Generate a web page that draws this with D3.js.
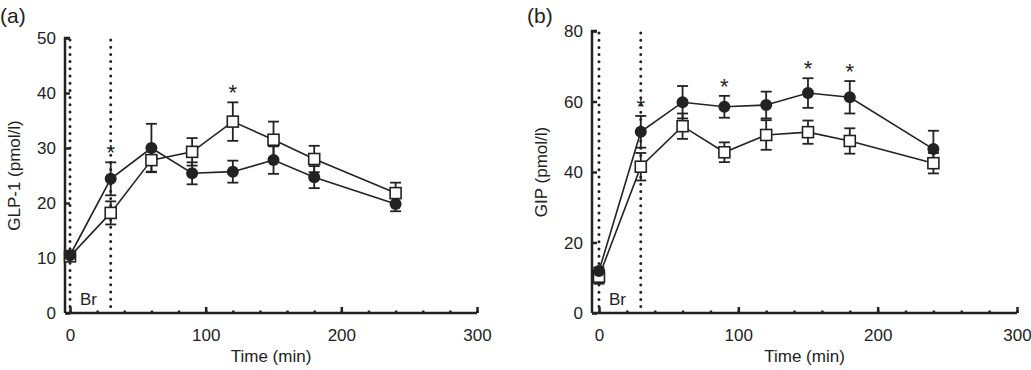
<!DOCTYPE html>
<html>
<head>
<meta charset="utf-8">
<script src="https://cdn.jsdelivr.net/npm/d3@7"></script>
<style>
  body { margin: 0; background: #fff; }
  svg text { font-family: "Liberation Sans", Arial, sans-serif; fill: #222; }
</style>
</head>
<body>
<div id="chart"></div>
<script>
// sampling times (min)
var times = [0, 30, 60, 90, 120, 150, 180, 240];

// GLP-1 (pmol/l)
var glpFilled = [10.5, 24.4, 30.0, 25.4, 25.7, 27.8, 24.7, 19.8];
var glpFilledErr = [0.8, 3.0, 4.4, 2.0, 2.0, 2.5, 2.0, 1.3];
var glpOpen = [10.3, 18.2, 27.8, 29.3, 34.8, 31.5, 28.0, 21.8];
var glpOpenErr = [0.8, 2.1, 2.1, 2.5, 3.5, 3.3, 2.4, 1.9];
var glpStars = [30, 120];

// GIP (pmol/l)
var gipFilled = [11.9, 51.4, 59.8, 58.5, 59.0, 62.4, 61.2, 46.5];
var gipFilledErr = [1.0, 4.5, 4.6, 3.1, 3.8, 4.2, 4.6, 5.2];
var gipOpen = [10.3, 41.5, 53.0, 45.6, 50.5, 51.3, 48.8, 42.5];
var gipOpenErr = [2.0, 3.9, 3.6, 2.8, 4.2, 3.3, 3.6, 2.9];
var gipStars = [30, 90, 150, 180];

var xTicks = [0, 100, 200, 300];
var xMinor = d3.range(0, 301, 20);

var svg = d3.select("#chart").append("svg")
  .attr("width", 1031)
  .attr("height", 370);

function panel(opt) {
  var g = svg.append("g");
  var x = d3.scaleLinear().domain(opt.xDomain).range(opt.xRange);
  var y = d3.scaleLinear().domain(opt.yDomain).range(opt.yRange);
  var y0 = opt.yRange[0], y1 = opt.yRange[1];

  // dotted lines for breakfast window
  [0, 30].forEach(function(t) {
    g.append("line")
      .attr("x1", x(t)).attr("x2", x(t))
      .attr("y1", y1 + 2).attr("y2", y0)
      .attr("stroke", "#222")
      .attr("stroke-width", 3)
      .attr("stroke-linecap", "round")
      .attr("stroke-dasharray", "0,7.2");
  });

  // axes (ticks point inward)
  g.append("g")
    .attr("transform", `translate(0,${y0})`)
    .call(d3.axisTop(x).tickValues(xMinor).tickSize(2.5).tickFormat(""))
    .call(function(a) { a.select(".domain").remove(); })
    .selectAll("line").attr("stroke", "#222").attr("stroke-width", 2.5);
  var xa = g.append("g")
    .attr("transform", `translate(0,${y0})`)
    .call(d3.axisTop(x).tickValues(xTicks).tickSize(6).tickSizeOuter(0).tickFormat(d3.format("d")));
  xa.select(".domain").attr("stroke", "#222").attr("stroke-width", 2.5)
    .attr("d", `M${opt.xRange[0]},0H${opt.xRange[1]}`);
  xa.selectAll("line").attr("stroke", "#222").attr("stroke-width", 2.5);
  xa.selectAll("text").attr("y", 28).attr("dy", 0).attr("font-size", 17);

  var ya = g.append("g")
    .attr("transform", `translate(${opt.xRange[0]},0)`)
    .call(d3.axisRight(y).tickValues(opt.yTicks).tickSize(5).tickSizeOuter(0));
  ya.select(".domain").attr("stroke", "#222").attr("stroke-width", 2.5)
    .attr("d", `M0,${y0}V${y1}H5`);
  ya.selectAll("line").attr("stroke", "#222").attr("stroke-width", 2.5);
  ya.selectAll("text").attr("x", -9).attr("dy", "0.35em")
    .attr("text-anchor", "end").attr("font-size", 17);

  var line = d3.line()
    .x(function(d, i) { return x(times[i]); })
    .y(function(d) { return y(d); });

  [opt.open, opt.filled].forEach(function(s) {
    g.append("path").datum(s)
      .attr("d", line)
      .attr("fill", "none")
      .attr("stroke", "#222")
      .attr("stroke-width", 1.6);
  });

  function errbars(vals, errs) {
    var eb = g.append("g").attr("stroke", "#222").attr("stroke-width", 1.8);
    vals.forEach(function(v, i) {
      var cx = x(times[i]);
      eb.append("line").attr("x1", cx).attr("x2", cx)
        .attr("y1", y(v - errs[i])).attr("y2", y(v + errs[i]));
      [v - errs[i], v + errs[i]].forEach(function(e) {
        eb.append("line").attr("x1", cx - 5.5).attr("x2", cx + 5.5)
          .attr("y1", y(e)).attr("y2", y(e));
      });
    });
  }
  errbars(opt.filled, opt.filledErr);
  errbars(opt.open, opt.openErr);

  g.selectAll(".sq").data(opt.open).enter().append("rect")
    .attr("x", function(d, i) { return x(times[i]) - 5.5; })
    .attr("y", function(d) { return y(d) - 5.5; })
    .attr("width", 11).attr("height", 11)
    .attr("fill", "#fff")
    .attr("stroke", "#222")
    .attr("stroke-width", 1.6);

  g.selectAll(".dot").data(opt.filled).enter().append("circle")
    .attr("cx", function(d, i) { return x(times[i]); })
    .attr("cy", function(d) { return y(d); })
    .attr("r", 6)
    .attr("fill", "#222");

  // significance marks above the highest error bar
  opt.stars.forEach(function(t) {
    var i = times.indexOf(t);
    var top = Math.max(opt.filled[i] + opt.filledErr[i], opt.open[i] + opt.openErr[i]);
    g.append("text")
      .attr("x", x(t)).attr("y", y(top) - 2)
      .attr("text-anchor", "middle")
      .attr("font-size", 22)
      .text("*");
  });

  g.append("text")
    .attr("x", x(0) + 10).attr("y", y0 - 8)
    .attr("font-size", 17)
    .text("Br");

  g.append("text")
    .attr("x", (opt.xRange[0] + opt.xRange[1]) / 2).attr("y", 362)
    .attr("text-anchor", "middle")
    .attr("font-size", 17)
    .text("Time (min)");

  g.append("text")
    .attr("transform", `translate(${opt.yLabelX},${(y0 + y1) / 2}) rotate(-90)`)
    .attr("text-anchor", "middle")
    .attr("font-size", 17)
    .text(opt.yLabel);

  g.append("text")
    .attr("x", opt.tagX).attr("y", 23)
    .attr("font-size", 21)
    .text(opt.tag);
}

panel({
  xDomain: [-3.7, 300], xRange: [65, 477],
  yDomain: [0, 50], yRange: [313, 38],
  yTicks: [0, 10, 20, 30, 40, 50],
  filled: glpFilled, filledErr: glpFilledErr,
  open: glpOpen, openErr: glpOpenErr,
  stars: glpStars,
  yLabel: "GLP-1 (pmol/l)", yLabelX: 20,
  tag: "(a)", tagX: 0
});

panel({
  xDomain: [-5, 300], xRange: [592, 1017],
  yDomain: [0, 80], yRange: [313, 31],
  yTicks: [0, 20, 40, 60, 80],
  filled: gipFilled, filledErr: gipFilledErr,
  open: gipOpen, openErr: gipOpenErr,
  stars: gipStars,
  yLabel: "GIP (pmol/l)", yLabelX: 547,
  tag: "(b)", tagX: 527
});
</script>
</body>
</html>
